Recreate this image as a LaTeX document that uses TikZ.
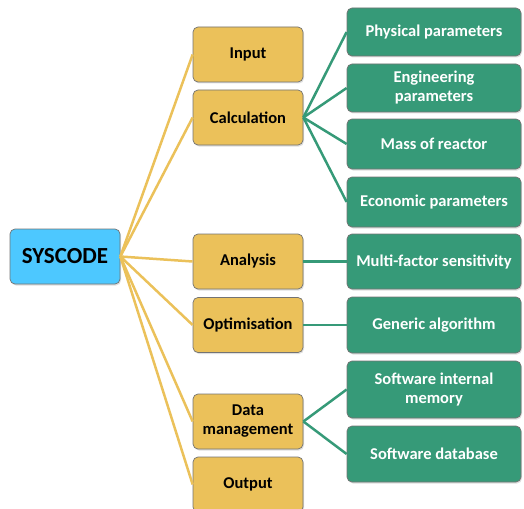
\documentclass[tikz,border=0pt]{standalone}
\usepackage{fontspec}
\setmainfont{Carlito}
\usetikzlibrary{shadows}
\definecolor{rootblue}{RGB}{77,200,255}
\definecolor{stepgold}{RGB}{235,193,90}
\definecolor{leafgreen}{RGB}{54,154,120}
\definecolor{edgegrey}{RGB}{115,115,115}
\tikzset{
  box/.style={draw=edgegrey, line width=0.7pt, rounded corners=5pt, align=center,
    inner sep=0pt, drop shadow={opacity=0.25, shadow xshift=1pt, shadow yshift=-1.5pt}},
  root/.style={box, fill=rootblue, minimum width=110pt, minimum height=55pt,
    font=\bfseries\fontsize{23}{26}\selectfont},
  stage/.style={box, fill=stepgold, minimum width=110pt, minimum height=55pt,
    font=\bfseries\fontsize{16.5}{19}\selectfont},
  leaf/.style={box, fill=leafgreen, text=white, minimum width=174pt,
    font=\bfseries\fontsize{16.5}{19}\selectfont},
  goldlink/.style={draw=stepgold, line width=2.5pt},
  greenlink/.style={draw=leafgreen, line width=2.5pt},
}
\begin{document}
\begin{tikzpicture}[x=1pt, y=-1pt]
  \useasboundingbox (0,0) rectangle (524,508);

  % root
  \node[root] (sys) at (65,256.5) {SYSCODE};

  % stages
  \node[stage] (input) at (248,54.5) {Input};
  \node[stage] (calc)  at (248,117.5) {Calculation};
  \node[stage] (anal)  at (248,261.5) {Analysis};
  \node[stage] (opt)   at (248,325) {Optimisation};
  \node[stage] (data)  at (248,421.5) {Data\\management};
  \node[stage] (out)   at (248,484.5) {Output};

  % details
  \node[leaf, minimum height=48pt] (phys) at (434,32)    {Physical parameters};
  \node[leaf, minimum height=48pt] (eng)  at (434,88)    {Engineering\\parameters};
  \node[leaf, minimum height=50pt] (mass) at (434,144)   {Mass of reactor};
  \node[leaf, minimum height=50pt] (econ) at (434,202)   {Economic parameters};
  \node[leaf, minimum height=55pt] (mfs)  at (434,261.5) {Multi-factor sensitivity};
  \node[leaf, minimum height=56pt] (gen)  at (434,325)   {Generic algorithm};
  \node[leaf, minimum height=57pt] (mem)  at (434,389.5) {Software internal\\memory};
  \node[leaf, minimum height=56pt] (db)   at (434,454)   {Software database};

  % root to stages
  \foreach \s in {input,calc,anal,opt,data,out}
    \draw[goldlink] (sys.east) -- (\s.west);

  % stages to details
  \foreach \d in {phys,eng,mass,econ}
    \draw[greenlink] (calc.east) -- (\d.west);
  \draw[greenlink] (anal.east) -- (mfs.west);
  \draw[greenlink] (opt.east) -- (gen.west);
  \draw[greenlink] (data.east) -- (mem.west);
  \draw[greenlink] (data.east) -- (db.west);
\end{tikzpicture}
\end{document}
